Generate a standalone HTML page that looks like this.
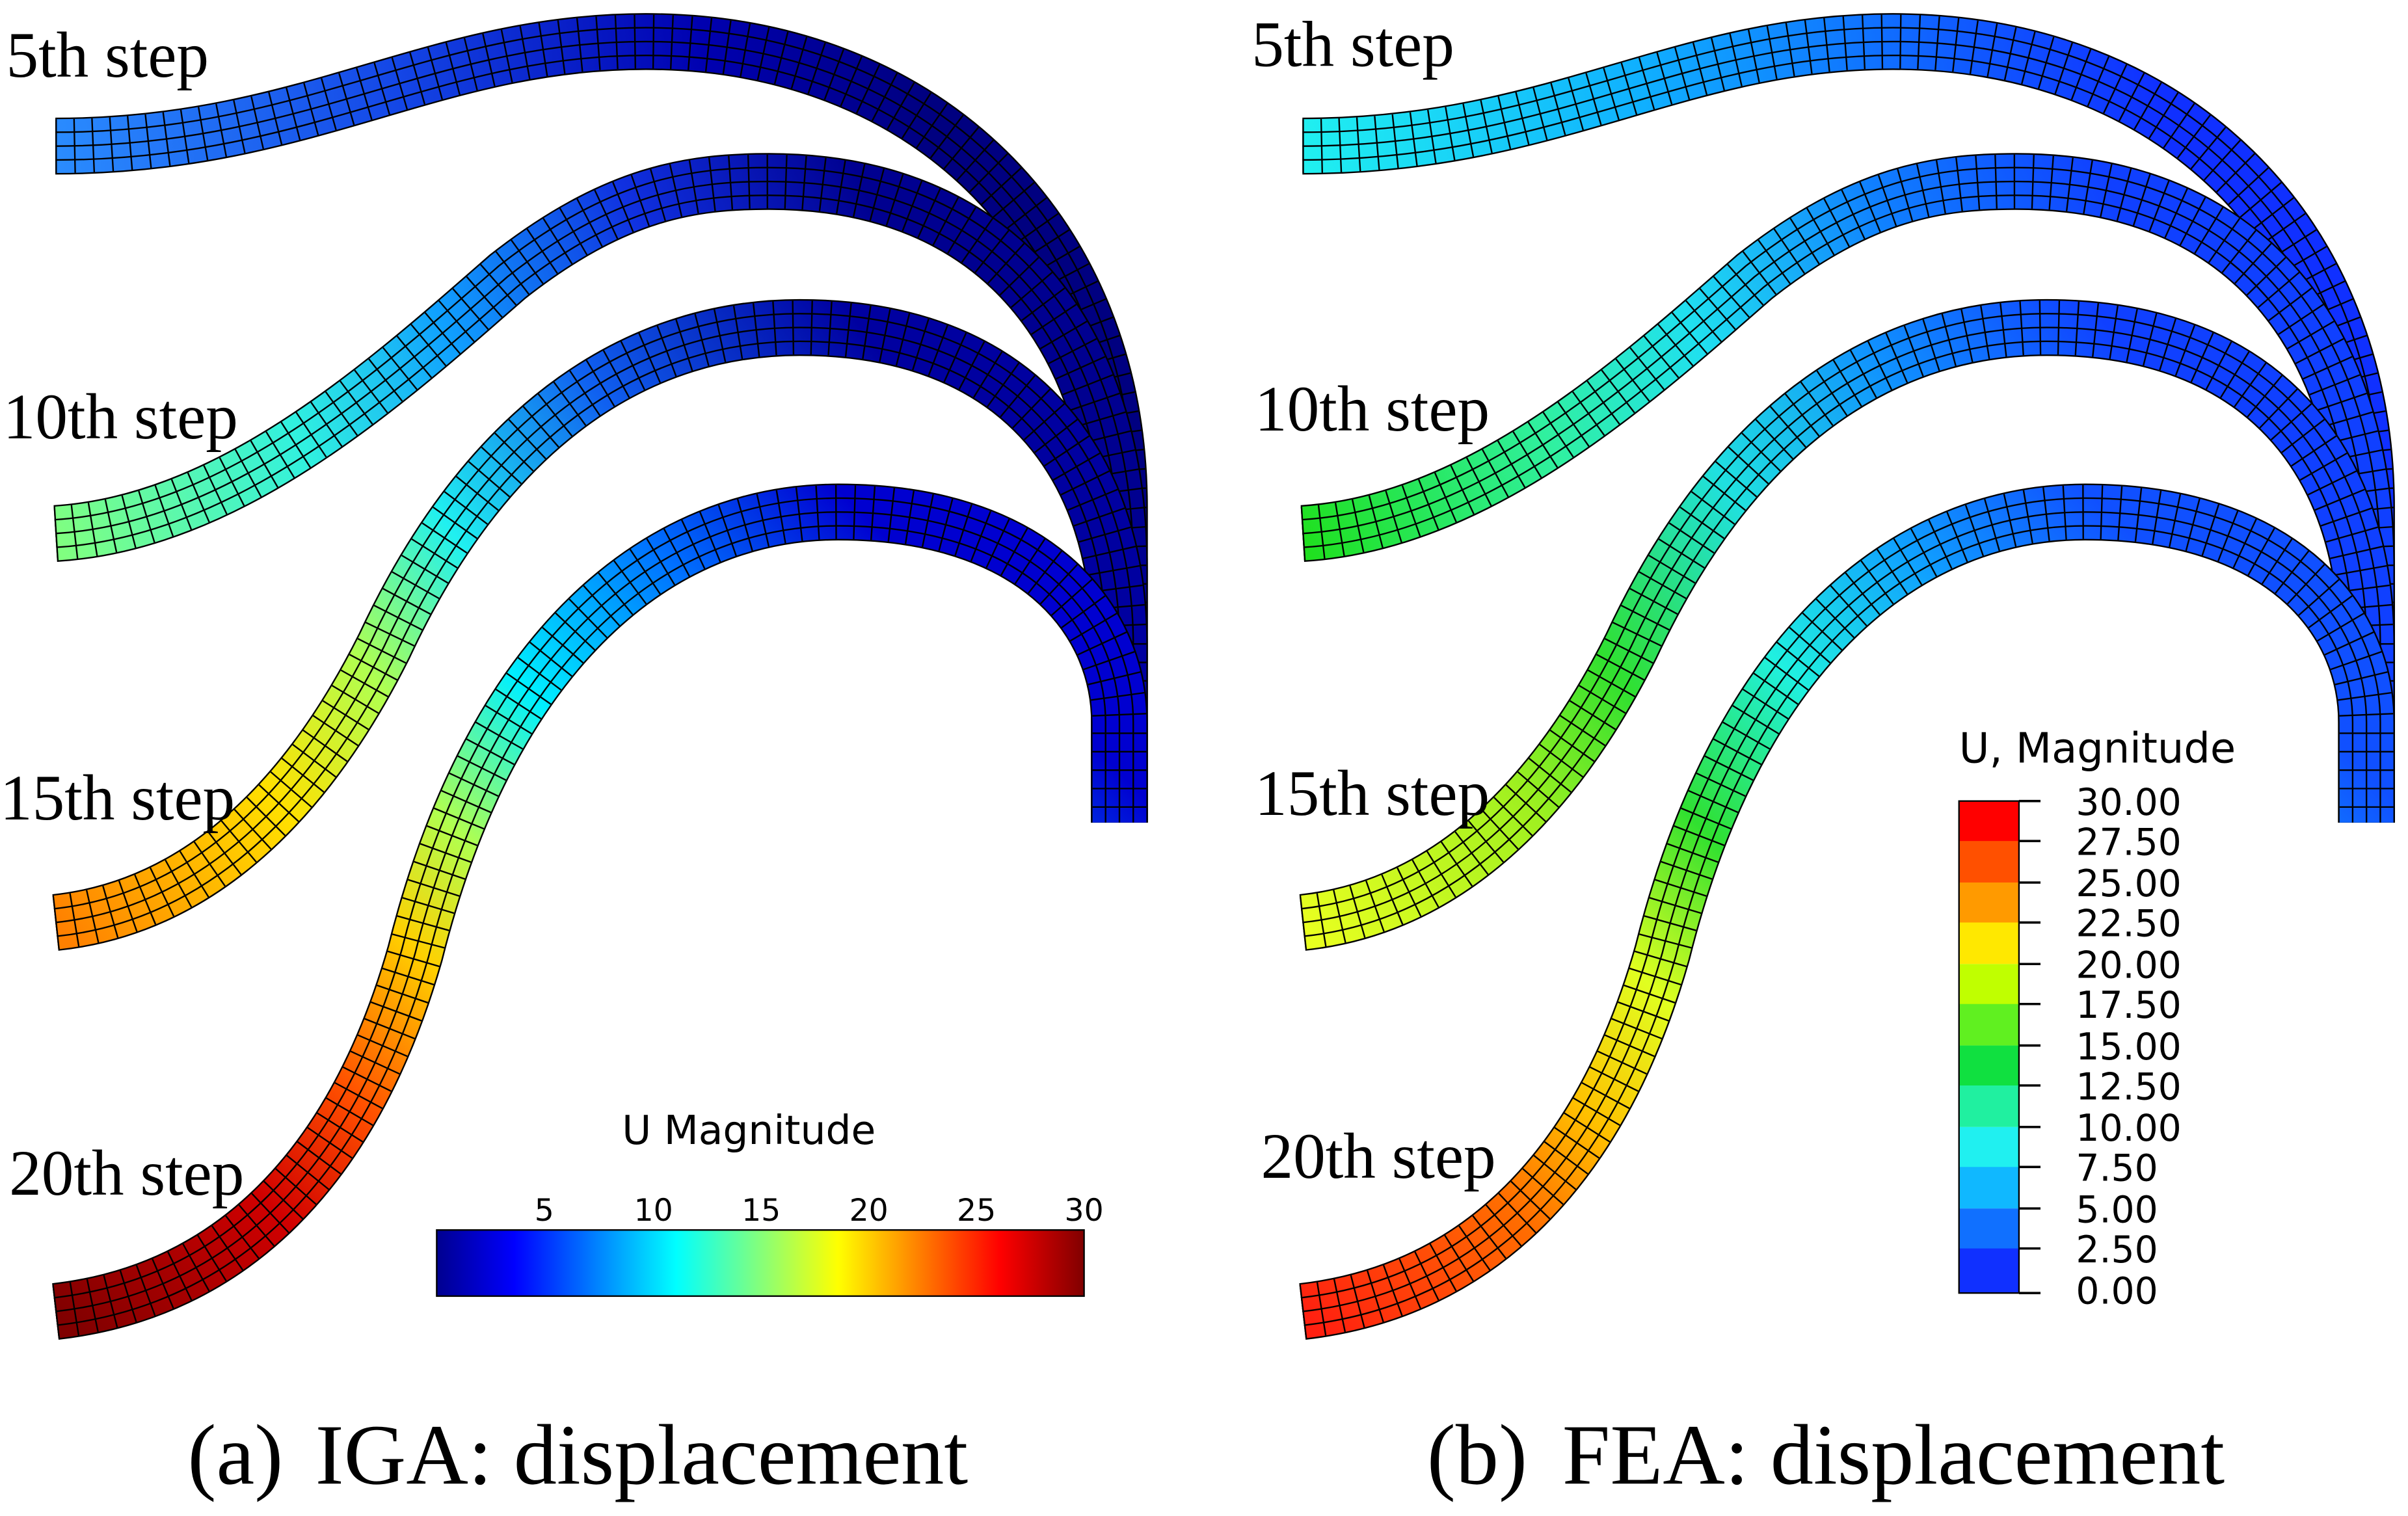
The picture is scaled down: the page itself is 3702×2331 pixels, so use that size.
<!DOCTYPE html>
<html><head><meta charset="utf-8"><style>
html,body{margin:0;padding:0;background:#fff}
svg{display:block}
.lab{font-family:"Liberation Serif",serif;font-size:42px;fill:#000}
.cap{font-family:"Liberation Serif",serif;font-size:56px;fill:#000}
.sm{font-family:"DejaVu Sans","Liberation Sans",sans-serif;fill:#000}
</style></head><body>
<svg width="3702" height="2331" viewBox="0 0 1566 986" xmlns="http://www.w3.org/2000/svg">
<defs>
<linearGradient id="L5" gradientUnits="userSpaceOnUse" x1="36" y1="95" x2="600" y2="30">
<stop offset="0" stop-color="#2a8cff"/><stop offset="0.4" stop-color="#1446e6"/><stop offset="0.75" stop-color="#0000b0"/><stop offset="1" stop-color="#000080"/></linearGradient>
<linearGradient id="L10" gradientUnits="userSpaceOnUse" x1="36" y1="347" x2="560" y2="118">
<stop offset="0" stop-color="#80ff80"/><stop offset="0.3" stop-color="#30f0e0"/><stop offset="0.5" stop-color="#10a0ff"/><stop offset="0.75" stop-color="#1030e0"/><stop offset="1" stop-color="#000090"/></linearGradient>
<linearGradient id="L15" gradientUnits="userSpaceOnUse" x1="36" y1="600" x2="560" y2="213">
<stop offset="0" stop-color="#ff8000"/><stop offset="0.25" stop-color="#ffe000"/><stop offset="0.4" stop-color="#b0ff50"/><stop offset="0.55" stop-color="#20f0f0"/><stop offset="0.75" stop-color="#1060f0"/><stop offset="1" stop-color="#0000a0"/></linearGradient>
<linearGradient id="L20" gradientUnits="userSpaceOnUse" x1="36" y1="853" x2="560" y2="333">
<stop offset="0" stop-color="#800000"/><stop offset="0.2" stop-color="#d00000"/><stop offset="0.32" stop-color="#ff5000"/><stop offset="0.45" stop-color="#ffd000"/><stop offset="0.55" stop-color="#b0ff50"/><stop offset="0.68" stop-color="#00f0ff"/><stop offset="0.85" stop-color="#0070ff"/><stop offset="1" stop-color="#0000d0"/></linearGradient>
<linearGradient id="R5s" gradientUnits="userSpaceOnUse" x1="36" y1="95" x2="590" y2="30">
<stop offset="0" stop-color="#20f0f0"/><stop offset="0.4" stop-color="#10b0ff"/><stop offset="0.75" stop-color="#1060ff"/><stop offset="1" stop-color="#1030ff"/></linearGradient>
<linearGradient id="R10s" gradientUnits="userSpaceOnUse" x1="36" y1="347" x2="560" y2="118">
<stop offset="0" stop-color="#20e020"/><stop offset="0.3" stop-color="#30f0a0"/><stop offset="0.5" stop-color="#20e0f0"/><stop offset="0.75" stop-color="#1080ff"/><stop offset="1" stop-color="#1040ff"/></linearGradient>
<linearGradient id="R15s" gradientUnits="userSpaceOnUse" x1="36" y1="600" x2="560" y2="213">
<stop offset="0" stop-color="#e8ff20"/><stop offset="0.25" stop-color="#a0f020"/><stop offset="0.4" stop-color="#30e030"/><stop offset="0.6" stop-color="#20e0e0"/><stop offset="0.8" stop-color="#1090ff"/><stop offset="1" stop-color="#1040ff"/></linearGradient>
<linearGradient id="R20s" gradientUnits="userSpaceOnUse" x1="36" y1="853" x2="560" y2="333">
<stop offset="0" stop-color="#ff2010"/><stop offset="0.2" stop-color="#ff7000"/><stop offset="0.3" stop-color="#ffc000"/><stop offset="0.42" stop-color="#e0ff20"/><stop offset="0.55" stop-color="#30e030"/><stop offset="0.7" stop-color="#20f0e0"/><stop offset="0.85" stop-color="#10a0ff"/><stop offset="1" stop-color="#1050ff"/></linearGradient>
<linearGradient id="jet" x1="0" y1="0" x2="1" y2="0">
<stop offset="0" stop-color="#00008f"/><stop offset="0.12" stop-color="#0000ff"/><stop offset="0.37" stop-color="#00ffff"/><stop offset="0.62" stop-color="#ffff00"/><stop offset="0.87" stop-color="#ff0000"/><stop offset="1" stop-color="#800000"/></linearGradient>
<path id="p5" d="M36,95 C200,95 280,27 420,27 C600,27 728,150 728,330 L728,535"/>
<path id="p10" d="M36,347 C150,340 250,250 330,180 C400,125 450,118 500,118 C650,118 728,220 728,370 L728,535"/>
<path id="p15" d="M36,600 C130,590 200,520 250,420 C320,270 420,213 520,213 C660,213 728,300 728,420 L728,535"/>
<path id="p20" d="M36,853 C150,840 230,760 270,620 C320,420 430,333 545,333 C670,333 728,400 728,470 L728,535"/>
</defs>
<rect width="1566" height="986" fill="#fff"/>
<g fill="none">
<use href="#p5" stroke="#000" stroke-width="37"/><use href="#p5" stroke="url(#L5)" stroke-width="35"/>
<use href="#p5" stroke="#000" stroke-width="19"/><use href="#p5" stroke="url(#L5)" stroke-width="17"/><use href="#p5" stroke="#000" stroke-width="1"/>
<use href="#p5" stroke="#000" stroke-width="35" stroke-dasharray="1 11"/>
<use href="#p10" stroke="#000" stroke-width="37"/><use href="#p10" stroke="url(#L10)" stroke-width="35"/>
<use href="#p10" stroke="#000" stroke-width="19"/><use href="#p10" stroke="url(#L10)" stroke-width="17"/><use href="#p10" stroke="#000" stroke-width="1"/>
<use href="#p10" stroke="#000" stroke-width="35" stroke-dasharray="1 11"/>
<use href="#p15" stroke="#000" stroke-width="37"/><use href="#p15" stroke="url(#L15)" stroke-width="35"/>
<use href="#p15" stroke="#000" stroke-width="19"/><use href="#p15" stroke="url(#L15)" stroke-width="17"/><use href="#p15" stroke="#000" stroke-width="1"/>
<use href="#p15" stroke="#000" stroke-width="35" stroke-dasharray="1 11"/>
<use href="#p20" stroke="#000" stroke-width="37"/><use href="#p20" stroke="url(#L20)" stroke-width="35"/>
<use href="#p20" stroke="#000" stroke-width="19"/><use href="#p20" stroke="url(#L20)" stroke-width="17"/><use href="#p20" stroke="#000" stroke-width="1"/>
<use href="#p20" stroke="#000" stroke-width="35" stroke-dasharray="1 11"/>
</g>
<g fill="none" transform="translate(811,0)">
<use href="#p5" stroke="#000" stroke-width="37"/><use href="#p5" stroke="url(#R5s)" stroke-width="35"/>
<use href="#p5" stroke="#000" stroke-width="19"/><use href="#p5" stroke="url(#R5s)" stroke-width="17"/><use href="#p5" stroke="#000" stroke-width="1"/>
<use href="#p5" stroke="#000" stroke-width="35" stroke-dasharray="1 11"/>
<use href="#p10" stroke="#000" stroke-width="37"/><use href="#p10" stroke="url(#R10s)" stroke-width="35"/>
<use href="#p10" stroke="#000" stroke-width="19"/><use href="#p10" stroke="url(#R10s)" stroke-width="17"/><use href="#p10" stroke="#000" stroke-width="1"/>
<use href="#p10" stroke="#000" stroke-width="35" stroke-dasharray="1 11"/>
<use href="#p15" stroke="#000" stroke-width="37"/><use href="#p15" stroke="url(#R15s)" stroke-width="35"/>
<use href="#p15" stroke="#000" stroke-width="19"/><use href="#p15" stroke="url(#R15s)" stroke-width="17"/><use href="#p15" stroke="#000" stroke-width="1"/>
<use href="#p15" stroke="#000" stroke-width="35" stroke-dasharray="1 11"/>
<use href="#p20" stroke="#000" stroke-width="37"/><use href="#p20" stroke="url(#R20s)" stroke-width="35"/>
<use href="#p20" stroke="#000" stroke-width="19"/><use href="#p20" stroke="url(#R20s)" stroke-width="17"/><use href="#p20" stroke="#000" stroke-width="1"/>
<use href="#p20" stroke="#000" stroke-width="35" stroke-dasharray="1 11"/>
</g>
<text class="lab" x="4" y="50">5th step</text>
<text class="lab" x="2" y="285">10th step</text>
<text class="lab" x="0" y="533">15th step</text>
<text class="lab" x="6" y="777">20th step</text>
<text class="lab" x="814" y="43">5th step</text>
<text class="lab" x="816" y="280">10th step</text>
<text class="lab" x="816" y="530">15th step</text>
<text class="lab" x="820" y="766">20th step</text>
<text class="sm" x="487" y="744" text-anchor="middle" style="font-size:26px">U Magnitude</text>
<rect x="284" y="800" width="421" height="43" fill="url(#jet)" stroke="#000" stroke-width="1"/>
<g class="sm" text-anchor="middle" style="font-size:20px">
<text x="354" y="794">5</text><text x="425" y="794">10</text><text x="495" y="794">15</text><text x="565" y="794">20</text><text x="635" y="794">25</text><text x="705" y="794">30</text></g>
<text class="sm" x="1364" y="496" text-anchor="middle" style="font-size:27px">U, Magnitude</text>
<g stroke="none">
<rect x="1274" y="521" width="39" height="27" fill="#ff0000"/>
<rect x="1274" y="547" width="39" height="27" fill="#ff5000"/>
<rect x="1274" y="574" width="39" height="27" fill="#ff9a00"/>
<rect x="1274" y="600" width="39" height="27" fill="#ffe800"/>
<rect x="1274" y="627" width="39" height="27" fill="#c0ff00"/>
<rect x="1274" y="653" width="39" height="27" fill="#60f020"/>
<rect x="1274" y="680" width="39" height="27" fill="#10e040"/>
<rect x="1274" y="706" width="39" height="27" fill="#20f0a0"/>
<rect x="1274" y="733" width="39" height="27" fill="#20f0f0"/>
<rect x="1274" y="759" width="39" height="27" fill="#10b8ff"/>
<rect x="1274" y="786" width="39" height="27" fill="#1070ff"/>
<rect x="1274" y="812" width="39" height="29" fill="#1030ff"/>
</g>
<rect x="1274" y="521" width="39" height="320" fill="none" stroke="#000" stroke-width="1"/>
<g stroke="#000" stroke-width="1.5">
<line x1="1313" y1="521" x2="1327" y2="521"/><line x1="1313" y1="547" x2="1327" y2="547"/><line x1="1313" y1="574" x2="1327" y2="574"/><line x1="1313" y1="600" x2="1327" y2="600"/><line x1="1313" y1="627" x2="1327" y2="627"/><line x1="1313" y1="653" x2="1327" y2="653"/><line x1="1313" y1="680" x2="1327" y2="680"/><line x1="1313" y1="706" x2="1327" y2="706"/><line x1="1313" y1="733" x2="1327" y2="733"/><line x1="1313" y1="759" x2="1327" y2="759"/><line x1="1313" y1="786" x2="1327" y2="786"/><line x1="1313" y1="812" x2="1327" y2="812"/><line x1="1313" y1="841" x2="1327" y2="841"/>
</g>
<g class="sm" style="font-size:24px">
<text x="1350" y="530">30.00</text><text x="1350" y="556">27.50</text><text x="1350" y="583">25.00</text><text x="1350" y="609">22.50</text><text x="1350" y="636">20.00</text><text x="1350" y="662">17.50</text><text x="1350" y="689">15.00</text><text x="1350" y="715">12.50</text><text x="1350" y="742">10.00</text><text x="1350" y="768">7.50</text><text x="1350" y="795">5.00</text><text x="1350" y="821">2.50</text><text x="1350" y="848">0.00</text>
</g>
<text class="cap" x="122" y="965">(a)</text><text class="cap" x="205" y="965">IGA: displacement</text>
<text class="cap" x="928" y="965">(b)</text><text class="cap" x="1016" y="965">FEA: displacement</text>
</svg>
</body></html>
